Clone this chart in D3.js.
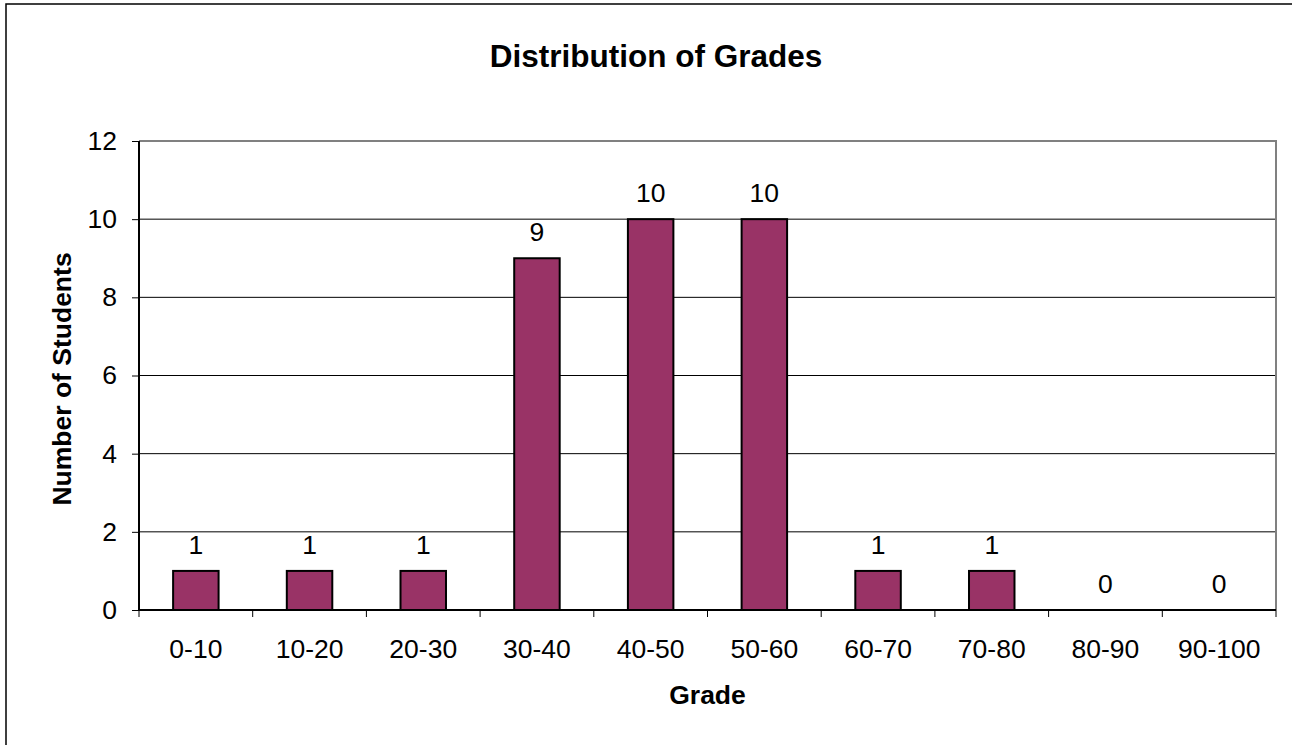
<!DOCTYPE html>
<html>
<head>
<meta charset="utf-8">
<script src="https://cdn.jsdelivr.net/npm/d3@7"></script>
<style>
  body { margin: 0; background: #fff; }
  svg { display: block; font-family: "Liberation Sans", Arial, sans-serif; }
</style>
</head>
<body>
<svg id="chart" width="1292" height="745"></svg>
<script>
// Daten aus dem Diagramm
const grades = ["0-10", "10-20", "20-30", "30-40", "40-50", "50-60", "60-70", "70-80", "80-90", "90-100"];
const students = [1, 1, 1, 9, 10, 10, 1, 1, 0, 0];
const yTicks = [0, 2, 4, 6, 8, 10, 12];

const svg = d3.select("#chart");
const plot = { left: 139, top: 141, right: 1276, bottom: 610 };
const fs = "26.5px";

// äußerer Rahmen (rechts und unten abgeschnitten)
svg.append("rect")
    .attr("x", 6).attr("y", 4)
    .attr("width", 1300).attr("height", 760)
    .attr("fill", "none").attr("stroke", "#000").attr("stroke-width", 1.5);

const x = d3.scaleBand()
    .domain(grades)
    .range([plot.left, plot.right])
    .paddingInner(0.6)
    .paddingOuter(0.3);

const band = d3.scaleBand().domain(grades).range([plot.left, plot.right]);

const y = d3.scaleLinear()
    .domain([0, 12])
    .range([plot.bottom, plot.top]);

// Gitterlinien
svg.append("g")
    .selectAll("line")
    .data(yTicks.filter(d => d > 0 && d < 12))
    .join("line")
    .attr("x1", plot.left).attr("x2", plot.right)
    .attr("y1", d => y(d)).attr("y2", d => y(d))
    .attr("stroke", "#000").attr("stroke-width", 1);

// Rahmen oben und rechts grau
svg.append("path")
    .attr("d", `M${plot.left},${plot.top}H${plot.right}V${plot.bottom}`)
    .attr("fill", "none").attr("stroke", "#808080").attr("stroke-width", 2);

// Balken
svg.append("g")
    .selectAll("rect")
    .data(students)
    .join("rect")
    .attr("x", (d, i) => x(grades[i]))
    .attr("y", d => y(d))
    .attr("width", x.bandwidth())
    .attr("height", d => plot.bottom - y(d))
    .attr("fill", "#993366")
    .attr("stroke", d => d > 0 ? "#000" : "none")
    .attr("stroke-width", 2);

// Datenbeschriftungen
svg.append("g")
    .selectAll("text")
    .data(students)
    .join("text")
    .attr("x", (d, i) => x(grades[i]) + x.bandwidth() / 2)
    .attr("y", d => y(d) - 17)
    .attr("text-anchor", "middle")
    .style("font-size", fs)
    .text(d => d);

// y-Achse
const yAxis = svg.append("g")
    .attr("transform", `translate(${plot.left},0)`)
    .call(d3.axisLeft(y).tickValues(yTicks).tickSize(7).tickPadding(15));
yAxis.selectAll("text").style("font-size", fs).attr("fill", "#000").style("font-family", "Liberation Sans, Arial, sans-serif");
yAxis.selectAll("line").attr("stroke", "#000");
yAxis.select(".domain").attr("stroke", "#000").attr("stroke-width", 2).attr("d", `M0,${plot.top}V${plot.bottom}`);

// x-Achse
const xAxis = svg.append("g")
    .attr("transform", `translate(0,${plot.bottom})`)
    .call(d3.axisBottom(band).tickSize(0).tickPadding(29));
xAxis.selectAll("text").style("font-size", fs).attr("fill", "#000").style("font-family", "Liberation Sans, Arial, sans-serif");
xAxis.select(".domain").attr("stroke", "#000").attr("stroke-width", 2).attr("d", `M${plot.left},0H${plot.right}`);

// Teilstriche zwischen den Kategorien
svg.append("g")
    .selectAll("line")
    .data(grades.concat(["end"]))
    .join("line")
    .attr("x1", (d, i) => i < grades.length ? band(d) : plot.right)
    .attr("x2", (d, i) => i < grades.length ? band(d) : plot.right)
    .attr("y1", plot.bottom).attr("y2", plot.bottom + 7)
    .attr("stroke", "#000").attr("stroke-width", 1);

// Titel und Achsentitel
svg.append("text")
    .attr("x", 656).attr("y", 67)
    .attr("text-anchor", "middle")
    .style("font-size", "31.5px").attr("font-weight", "bold")
    .text("Distribution of Grades");

svg.append("text")
    .attr("x", (plot.left + plot.right) / 2).attr("y", 704)
    .attr("text-anchor", "middle")
    .style("font-size", fs).attr("font-weight", "bold")
    .text("Grade");

svg.append("text")
    .attr("transform", `translate(71,379) rotate(-90)`)
    .attr("text-anchor", "middle")
    .style("font-size", fs).attr("font-weight", "bold")
    .text("Number of Students");
</script>
</body>
</html>
